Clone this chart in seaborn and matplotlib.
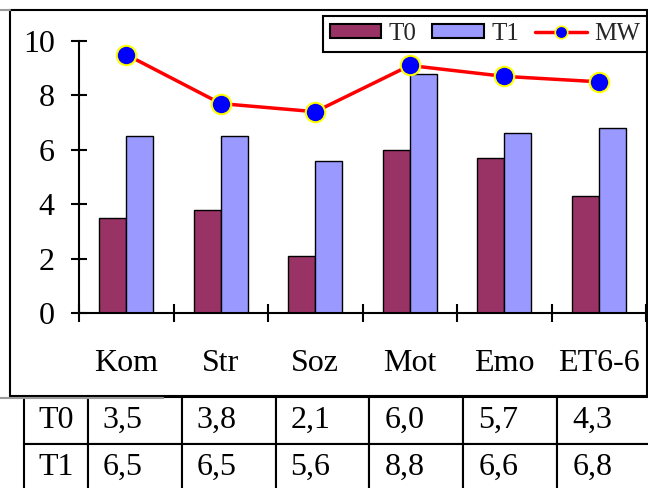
import numpy as np
import pandas as pd
import matplotlib
matplotlib.use("Agg")
import matplotlib.pyplot as plt
import seaborn as sns
from matplotlib.patches import Patch, Rectangle
from matplotlib.lines import Line2D
from matplotlib.ticker import FixedLocator

categories = ["Kom", "Str", "Soz", "Mot", "Emo", "ET6-6"]
series = ["T0", "T1"]
t0 = [3.5, 3.8, 2.1, 6.0, 5.7, 4.3]
t1 = [6.5, 6.5, 5.6, 8.8, 6.6, 6.8]
mw = [9.5, 7.7, 7.4, 9.1, 8.7, 8.5]
t0_labels = ["3,5", "3,8", "2,1", "6,0", "5,7", "4,3"]
t1_labels = ["6,5", "6,5", "5,6", "8,8", "6,6", "6,8"]
yticks = [0, 2, 4, 6, 8, 10]

sns.set_theme(style="ticks")
plt.rcParams["font.family"] = ["Liberation Serif", "DejaVu Serif"]

W, H = 648, 488
fig = plt.figure(figsize=(6.48, 4.88), dpi=100)
fig.patch.set_facecolor("white")

ax = fig.add_axes([79 / W, 1 - 313 / H, (646 - 79) / W, (313 - 41) / H])

df = pd.DataFrame({
    "cat": categories * 2,
    "series": [series[0]] * len(categories) + [series[1]] * len(categories),
    "value": t0 + t1,
})
sns.barplot(data=df, x="cat", y="value", hue="series", order=categories,
            hue_order=series, palette=["#993366", "#9999FF"], width=0.572,
            gap=0, edgecolor="black", linewidth=1.0, saturation=1,
            legend=False, ax=ax)

sns.pointplot(x=categories, y=mw, order=categories, color="red",
              markers="o", errorbar=None, ax=ax)
ln = ax.lines[-1]
ln.set_linewidth(2.5)
ln.set_markersize(14)
ln.set_markerfacecolor("#0000FF")
ln.set_markeredgecolor("#FFFF00")
ln.set_markeredgewidth(1.5)
ln.set_zorder(5)

ax.set_xlim(-0.5, len(categories) - 0.5)
ax.set_ylim(0, 10)
ax.set_yticks(yticks)
ax.set_yticklabels([str(v) for v in yticks])
ax.set_xlabel("")
ax.set_ylabel("")
ax.xaxis.set_minor_locator(FixedLocator(np.arange(-0.5, len(categories), 1.0)))
ax.tick_params(axis="y", direction="inout", length=11, width=1.5, pad=12,
               labelsize=23, color="black", labelcolor="black", left=True)
ax.tick_params(axis="x", which="major", length=0, pad=26, labelsize=23,
               labelcolor="black")
ax.tick_params(axis="x", which="minor", direction="inout", length=13,
               width=1.5, color="black", bottom=True)
for s in ["top", "right"]:
    ax.spines[s].set_visible(False)
for s in ["left", "bottom"]:
    ax.spines[s].set_linewidth(1.5)
    ax.spines[s].set_color("black")

handles = [
    Patch(facecolor="#993366", edgecolor="black", linewidth=1.5),
    Patch(facecolor="#9999FF", edgecolor="black", linewidth=1.5),
    Line2D([], [], color="red", linewidth=2.5, marker="o", markersize=9,
           markerfacecolor="#0000FF", markeredgecolor="#FFFF00",
           markeredgewidth=1.2),
]
leg = fig.legend(handles, ["T0", "T1", "MW"], ncol=3, loc="upper right",
                 bbox_to_anchor=(647 / W, 1 - 16 / H),
                 bbox_transform=fig.transFigure, frameon=True, fancybox=False,
                 edgecolor="black", framealpha=1, fontsize=18,
                 handlelength=2.05, handleheight=0.45, handletextpad=0.3,
                 columnspacing=0.65, borderaxespad=0, borderpad=0.28)
leg.get_frame().set_linewidth(1.5)

# outer chart frame
fig.add_artist(Rectangle((10 / W, 1 - 396 / H), (647 - 10) / W, (396 - 10) / H,
                         transform=fig.transFigure, fill=False,
                         edgecolor="black", linewidth=1.5))
fig.add_artist(Line2D([0, 10 / W], [1 - 10 / H] * 2, color="#9a9a9a",
                      linewidth=1.5, transform=fig.transFigure))
fig.add_artist(Line2D([0, 163 / W], [1 - 398 / H] * 2, color="#9a9a9a",
                      linewidth=1.5, transform=fig.transFigure))

# data table
tax = fig.add_axes([24 / W, (H - 491) / H, 627 / W, 94 / H])
tax.axis("off")
cell_text = [[series[0]] + t0_labels, [series[1]] + t1_labels]
tbl = tax.table(cellText=cell_text, cellLoc="left",
                colWidths=[64 / 627] + [94 / 627] * len(categories),
                bbox=[0, 0, 1, 1])
tbl.auto_set_font_size(False)
for (r, c), cell in tbl.get_celld().items():
    cell.set_linewidth(1.5)
    cell.set_edgecolor("black")
    cell.get_text().set_fontsize(23)
    cell.get_text().set_color("black")
    cell.PAD = 14 / 64 if c == 0 else 15 / 94

fig.savefig("out.png", dpi=100)
